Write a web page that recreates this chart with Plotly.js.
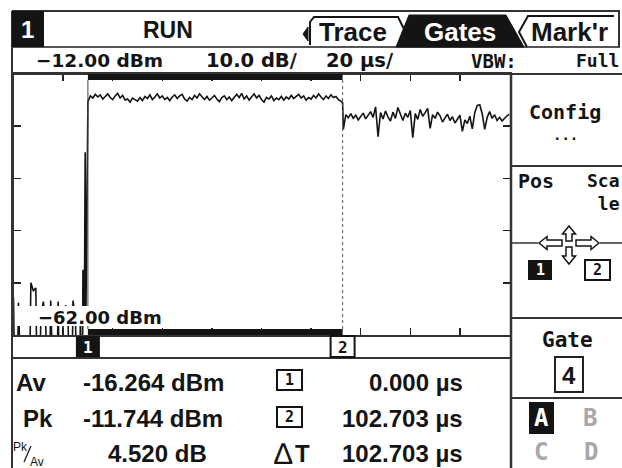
<!DOCTYPE html>
<html><head><meta charset="utf-8">
<script src="https://cdn.plot.ly/plotly-3.0.1.min.js"></script>
<style>html,body{margin:0;padding:0;background:#fff;overflow:hidden}#chart{width:622px;height:468px}</style>
</head><body><div id="chart"></div>
<script>
const preTimeUs = [-30,-29,-28,-27,-26,-25,-24,-23,-22,-21,-20,-19,-18,-17,-16,-15,-14,-13,-12,-11,-10,-9,-8,-7,-6,-5,-4,-3];
const prePowerDbm = [-54.8,-90,-55.8,-90,-90,-90,-90,-52.0,-53.5,-53.0,-90,-59.0,-55.6,-59.5,-90,-55.4,-90,-90,-55.6,-90,-59.5,-56.3,-58.5,-90,-55.4,-58.8,-90,-58.5];
const edgeTimeUs = [-2.4,-2.0,-1.7,-1.4,-1.1,-0.8,-0.4,-0.15];
const edgePowerDbm = [-90,-49.5,-58.0,-57.0,-27.0,-58.0,-32.0,-27.5];
const pulseTimeUs = [0,1,2,3,4,5,6,7,8,9,10,11,12,13,14,15,16,17,18,19,20,21,22,23,24,25,26,27,28,29,30,31,32,33,34,35,36,37,38,39,40,41,42,43,44,45,46,47,48,49,50,51,52,53,54,55,56,57,58,59,60,61,62,63,64,65,66,67,68,69,70,71,72,73,74,75,76,77,78,79,80,81,82,83,84,85,86,87,88,89,90,91,92,93,94,95,96,97,98,99,100,101,102,102.7];
const pulsePowerDbm = [
 -17.3,-16.2,-16.6,-15.9,-16.4,-16.0,-16.8,-16.3,-15.8,-16.5,
 -16.9,-16.2,-15.7,-16.6,-16.1,-17.0,-16.8,-17.4,-16.6,-16.9,
 -17.2,-16.5,-17.1,-16.3,-16.7,-16.0,-16.9,-16.4,-15.8,-16.6,
 -16.2,-16.9,-16.5,-17.1,-16.4,-16.0,-16.7,-16.2,-15.9,-16.8,
 -17.2,-16.5,-16.9,-16.1,-16.6,-15.8,-16.4,-16.9,-16.3,-17.0,
 -16.6,-16.1,-16.8,-17.3,-16.5,-16.2,-16.9,-16.4,-17.1,-16.6,
 -15.9,-16.5,-15.7,-16.8,-16.2,-17.0,-16.4,-15.8,-16.6,-16.1,
 -16.9,-17.4,-16.5,-16.8,-16.2,-17.1,-16.6,-16.9,-16.3,-17.0,
 -16.4,-16.8,-16.1,-16.7,-16.3,-15.9,-16.6,-16.2,-17.0,-16.5,
 -16.8,-16.1,-16.6,-15.8,-16.4,-16.9,-16.2,-16.7,-16.0,-16.5,
 -16.3,-16.9,-17.2,-17.5];
const postTimeUs = [103,104,105,106,107,108,109,110,111,112,113,114,115,116,117,118,119,120,121,122,123,124,125,126,127,128,129,130,131,132,133,134,135,136,137,138,139,140,141,142,143,144,145,146,147,148,149,150,151,152,153,154,155,156,157,158,159,160,161,162,163,164,165,166,167,168,169,170];
const postPowerDbm = [
 -22.6,-19.8,-20.4,-19.6,-20.5,-19.9,-20.8,-20.1,-19.5,-20.6,
 -20.0,-19.2,-20.3,-18.3,-24.0,-19.4,-20.6,-19.1,-20.2,-21.0,
 -19.3,-20.5,-18.4,-19.7,-20.9,-19.5,-20.3,-19.0,-24.2,-19.6,
 -20.7,-18.8,-20.1,-19.4,-18.6,-22.4,-19.8,-20.5,-19.3,-20.0,
 -21.2,-20.4,-19.7,-20.9,-20.2,-21.4,-20.6,-19.9,-23.0,-20.8,
 -21.5,-20.1,-22.5,-19.4,-18.0,-17.9,-19.6,-22.6,-20.3,-19.2,
 -20.5,-19.8,-20.9,-20.3,-21.0,-20.4,-20.0,-19.7];
const gateTimesUs = [0, 102.703];
const gateLabels = ['1','2'];
const topLevelDbm = -12, bottomLevelDbm = -62, dbPerDiv = 10;
const startTimeUs = -30, usPerDiv = 20, divisions = 10;
const readoutNames = ['Av','Pk'];
const readoutValues = ['-16.264 dBm','-11.744 dBm','4.520 dB'];
const timeValues = ['0.000 µs','102.703 µs','102.703 µs'];
const headerTexts = {ch:'1', state:'RUN', tabs:['Trace','Gates',"Mark'r"]};
const scaleTexts = ['\u221212.00 dBm','10.0 dB/','20 µs/','VBW:','Full'];
const bottomLabel = '\u221262.00 dBm';

// ---- layout helpers ----
const W = 622, H = 468;
const X = px => px / W, Y = py => 1 - py / H;
const SANS = 'Liberation Sans, Arial, sans-serif';
const DJ = 'DejaVu Sans, sans-serif';
const MONO = 'DejaVu Sans Mono, monospace';
const INK = '#141414', FRAME = '#333';
const S = [], A = [];
function line(x0,y0,x1,y1,w,c,dash){S.push({type:'line',xref:'paper',yref:'paper',x0:X(x0),y0:Y(y0),x1:X(x1),y1:Y(y1),line:{color:c||FRAME,width:w||2,dash:dash||'solid'}});}
function rect(x0,y0,x1,y1,fill,lc,lw){S.push({type:'rect',xref:'paper',yref:'paper',x0:X(x0),y0:Y(y1),x1:X(x1),y1:Y(y0),fillcolor:fill||'rgba(0,0,0,0)',line:{color:lc||fill||INK,width:lw===undefined?0:lw}});}
function poly(pts,fill,lc,lw,closed){let p='M'+pts.map(q=>X(q[0])+','+Y(q[1])).join('L')+(closed?'Z':'');S.push({type:'path',xref:'paper',yref:'paper',path:p,fillcolor:fill||'rgba(0,0,0,0)',line:{color:lc||INK,width:lw||0}});}
function txt(s,x,y,size,fam,o){o=o||{};const a={text:s,x:X(x),y:Y(y),xref:'paper',yref:'paper',showarrow:false,xanchor:o.anchor||'center',yanchor:'middle',borderpad:0,font:{family:fam,size:size,color:o.color||INK,weight:o.weight||'bold'}};if(o.h)a.height=o.h;if(o.bg)a.bgcolor=o.bg;if(o.align)a.align=o.align;A.push(a);}

// frame
line(12,11,620,11,2);
line(12,47,620,47,2,'#555');
line(12,74,622,74,2);
line(12,11,12,468,2);
line(619,11,619,47,2);
line(511,74,511,468,2.5);
line(511,166,622,166,2);
line(511,318,622,318,2);
line(511,398,622,398,2);
line(511,243,538,243,1.5);
line(600,243,622,243,1.5);
line(12,358,511,358,2);

// header
rect(12,11,44,47,INK);
txt(headerTexts.ch,27,30,24,SANS,{color:'#fff'});
txt(headerTexts.state,168,30,23,SANS);
poly([[310,45],[310,22],[314,17],[398,17],[406,33]],null,INK,2,false);
poly([[308,27],[303,34],[308,41]],INK,INK,1,true);
txt(headerTexts.tabs[0],353,32,26,SANS);
poly([[396,47],[409,15],[506,15],[524,47]],INK,INK,1,true);
txt(headerTexts.tabs[1],460,32,26,SANS,{color:'#fff'});
poly([[527,47],[519,32],[528,16],[614,16]],null,INK,2,false);
txt(headerTexts.tabs[2],569,32,26,SANS);

// row 2
txt(scaleTexts[0],35,61,18.5,DJ,{anchor:'left'});
txt(scaleTexts[1],205,61,19.5,DJ,{anchor:'left'});
txt(scaleTexts[2],325,61,19.5,DJ,{anchor:'left'});
txt(scaleTexts[3],470,61,19,MONO,{anchor:'left'});
txt(scaleTexts[4],620,61,18,MONO,{anchor:'right'});

// plot overlays: gate bars, gate lines, strip markers
const gStart = gateTimesUs[0], gEnd = gateTimesUs[1];
S.push({type:'rect',xref:'x',yref:'paper',x0:gStart,x1:gEnd,y0:Y(80),y1:Y(74),fillcolor:INK,line:{width:0}});
S.push({type:'rect',xref:'x',yref:'paper',x0:gStart,x1:gEnd,y0:Y(335),y1:Y(329),fillcolor:INK,line:{width:0}});
S.push({type:'line',xref:'x',yref:'paper',x0:gStart,x1:gStart,y0:Y(329),y1:Y(80),line:{color:'#444',width:1}});
S.push({type:'line',xref:'x',yref:'paper',x0:gEnd,x1:gEnd,y0:Y(329),y1:Y(80),line:{color:'#555',width:1,dash:'dot'}});
// white backing of the bottom-level label (covers the trace as on the instrument)
rect(15,306,160,326,'#fff');
gateTimesUs.forEach((g,i)=>{
  S.push({type:'rect',xref:'x',yref:'paper',xsizemode:'pixel',xanchor:g,x0:-12,x1:12,y0:Y(357),y1:Y(336),
    fillcolor:i===0?INK:'#fff',line:{color:INK,width:i===0?0:2}});
  A.push({text:gateLabels[i],x:g,xref:'x',y:Y(347),yref:'paper',showarrow:false,xanchor:'center',yanchor:'middle',
    font:{family:MONO,size:16,weight:'bold',color:i===0?'#fff':INK}});
});
txt(bottomLabel,37,317,18,DJ,{anchor:'left',h:20});

// readouts
txt(readoutNames[0],15,382,24,SANS,{anchor:'left'});
txt(readoutValues[0],82,382,24,SANS,{anchor:'left'});
txt(readoutNames[1],22,418,24,SANS,{anchor:'left'});
txt(readoutValues[1],82,418,24,SANS,{anchor:'left'});
txt('Pk',20,446,12,SANS,{weight:'normal',h:11});
line(31,446,24,462,1.2,INK);
txt('Av',37,461,12,SANS,{weight:'normal',h:11});
txt(readoutValues[2],107,453,24,SANS,{anchor:'left'});
rect(277,370,302,390,'#fff',INK,2); txt(gateLabels[0],289.5,380,15,MONO);
rect(277,407,302,427,'#fff',INK,2); txt(gateLabels[1],289.5,417,15,MONO);
txt('\u2206',283,453,30,SANS,{weight:'normal',h:26});
txt('T',294,453,24,SANS,{anchor:'left',h:26});
txt(timeValues[0],464,382,24,SANS,{anchor:'right'});
txt(timeValues[1],464,418,24,SANS,{anchor:'right'});
txt(timeValues[2],464,453,24,SANS,{anchor:'right'});

// right panel
txt('Config',565,112,20,MONO);
txt('...',565,135,14,MONO);
txt('Pos',517,181,20,MONO,{anchor:'left',h:20});
txt('Sca<br>le',621,191.5,18,MONO,{anchor:'right',align:'right'});
// hollow arrows
poly([[569,226],[575.5,234],[572,234],[572,241],[566,241],[566,234],[562.5,234]],'#fff',INK,1.5,true);
poly([[569,264],[575.5,256],[572,256],[572,247],[566,247],[566,256],[562.5,256]],'#fff',INK,1.5,true);
poly([[539,243],[547,236.5],[547,240],[562,240],[562,246],[547,246],[547,249.5]],'#fff',INK,1.5,true);
poly([[599,243],[591,236.5],[591,240],[576,240],[576,246],[591,246],[591,249.5]],'#fff',INK,1.5,true);
rect(528,260,552,280,INK); txt(gateLabels[0],540,270,15,MONO,{color:'#fff'});
rect(585,260,610,280,'#fff',INK,2); txt(gateLabels[1],597.5,270,15,MONO);
txt('Gate',567,340,21,MONO);
rect(555,357,583,392,'#fff','#222',2); txt('4',569,375,24,SANS);
rect(529,402,554,434,INK); txt('A',541.5,418,24,MONO,{color:'#fff'});
txt('B',590,418,24,MONO,{color:'#a8a8a8'});
txt('C',541,452,24,MONO,{color:'#a8a8a8'});
txt('D',591,452,24,MONO,{color:'#a8a8a8'});

// trace
const tUs = preTimeUs.concat(edgeTimeUs, pulseTimeUs, postTimeUs);
const pDbm = prePowerDbm.concat(edgePowerDbm, pulsePowerDbm, postPowerDbm);
const data = [{type:'scatter',mode:'lines',x:tUs,y:pDbm,line:{color:INK,width:1.6},hoverinfo:'skip'}];

const axCommon = {showline:true,linecolor:FRAME,linewidth:2,mirror:'ticks',ticks:'inside',ticklen:7,tickwidth:1.5,tickcolor:'#222',
  showticklabels:false,showgrid:false,zeroline:false,fixedrange:true,tickmode:'linear'};
const layout = {
  width:W,height:H,margin:{l:0,r:0,t:0,b:0},paper_bgcolor:'#fff',plot_bgcolor:'#fff',showlegend:false,
  xaxis:Object.assign({},axCommon,{domain:[X(13.5),X(509.5)],range:[startTimeUs,startTimeUs+divisions*usPerDiv],tick0:startTimeUs,dtick:usPerDiv}),
  yaxis:Object.assign({},axCommon,{domain:[Y(335),Y(74)],range:[bottomLevelDbm,topLevelDbm],tick0:bottomLevelDbm,dtick:dbPerDiv}),
  shapes:S,annotations:A
};
Plotly.newPlot('chart',data,layout,{staticPlot:true,displayModeBar:false});
</script></body></html>
